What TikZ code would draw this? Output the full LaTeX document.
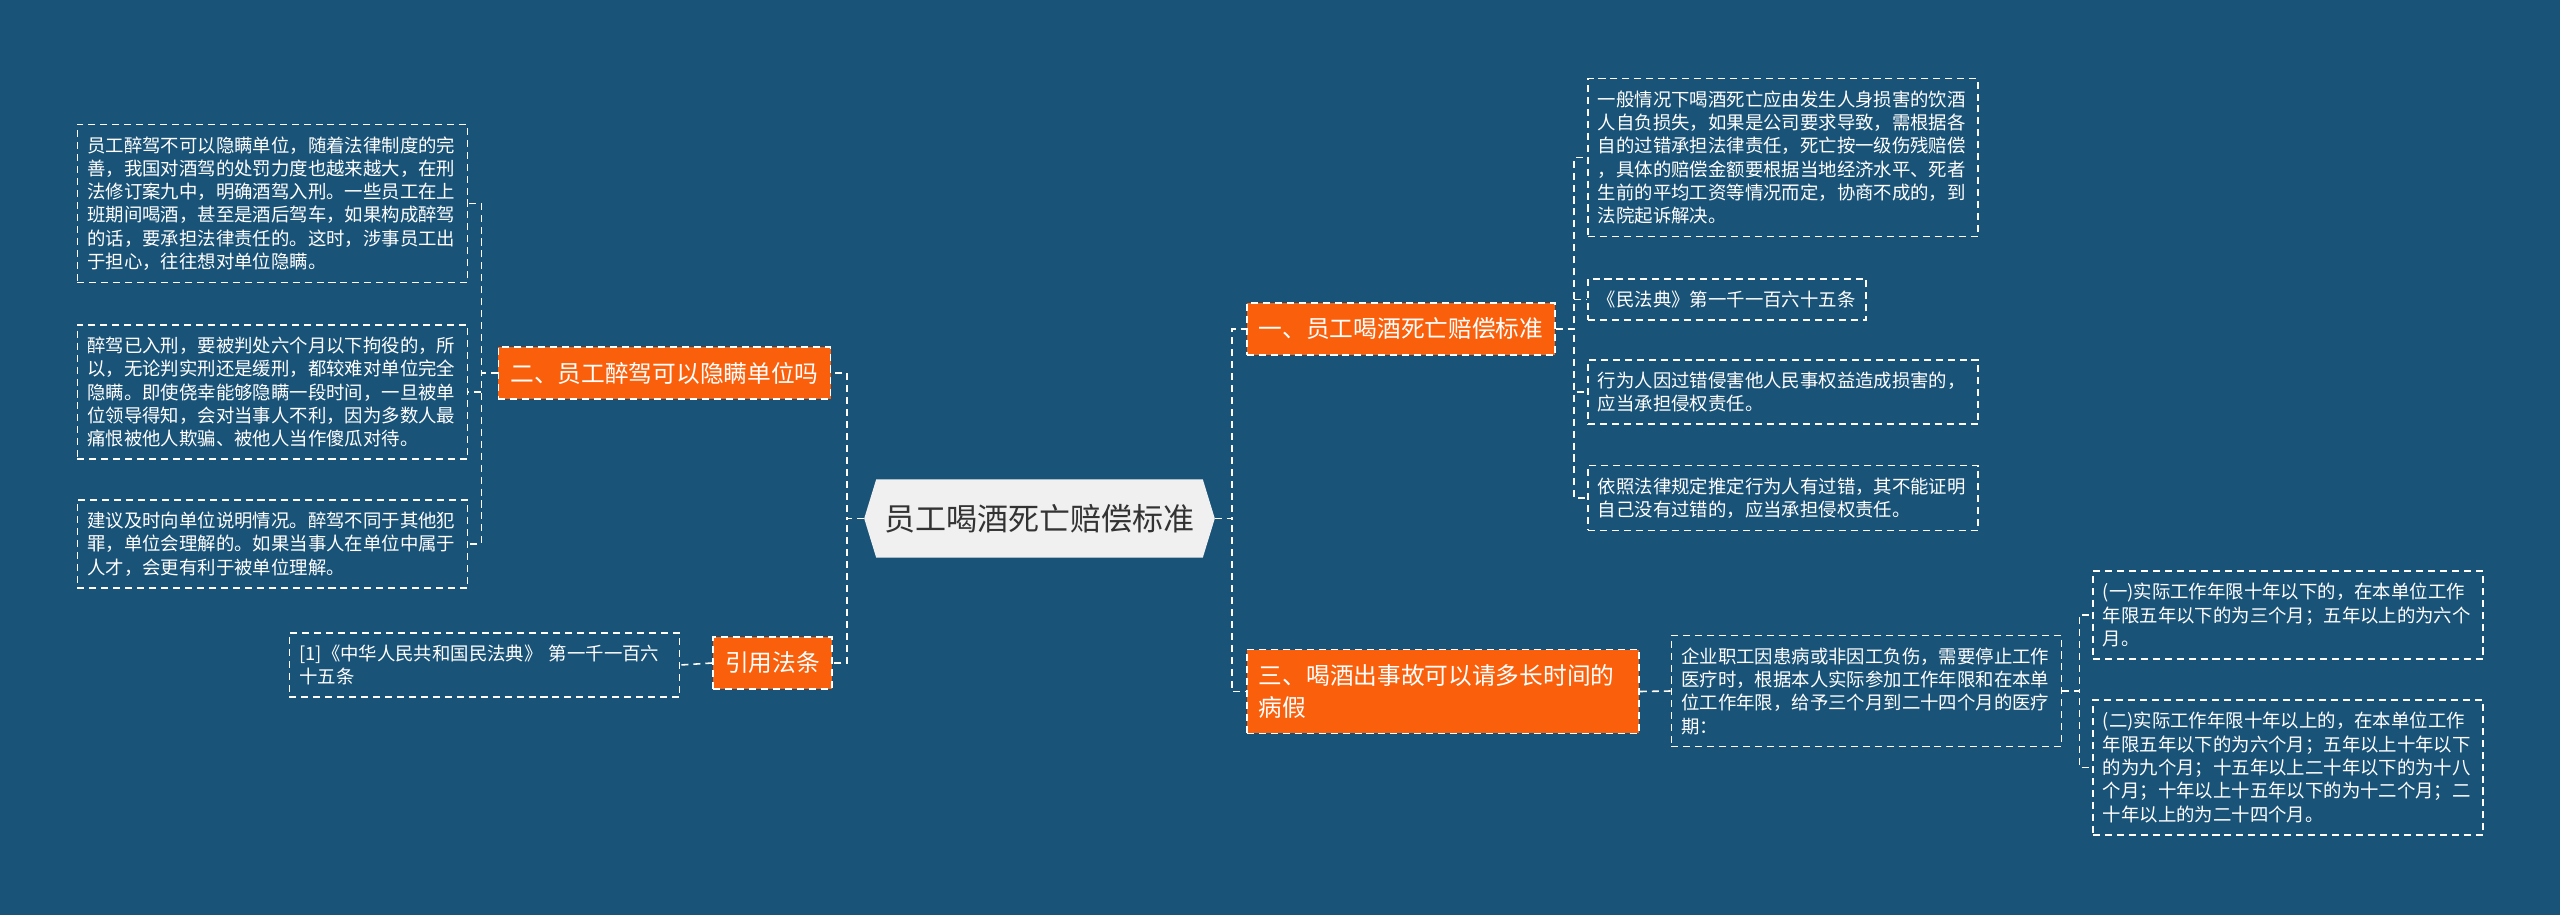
\documentclass[tikz,border=0pt]{standalone}
\usepackage{fontspec}
\usepackage{xcolor}
\usetikzlibrary{shapes,arrows,positioning,calc,backgrounds}
\newfontfamily\cjk{Noto Sans CJK SC}
\definecolor{deepblue}{RGB}{26,83,120}
\definecolor{orange}{RGB}{250,96,12}
\definecolor{lightgray}{RGB}{240,240,240}
\definecolor{darktext}{RGB}{51,51,51}

\begin{document}
\begin{tikzpicture}[x=0.01cm, y=-0.01cm,
  link/.style={white, line width=0.45pt, dash pattern=on 2pt off 1.4pt},
  leaf/.style={rectangle, draw=white, line width=0.45pt, dash pattern=on 2pt off 1.4pt,
    text=white, align=left, text width=3.7cm, inner xsep=0.1cm, inner ysep=0.12cm,
    font=\cjk\fontsize{5.23pt}{6.63pt}\selectfont},
  branch/.style={rectangle, draw=white, fill=orange, line width=0.45pt, dash pattern=on 2pt off 1.4pt,
    text=white, inner xsep=0.12cm, inner ysep=0.15cm,
    font=\cjk\fontsize{6.74pt}{9.1pt}\selectfont}]

% root
\node[rectangle, minimum width=3.25cm, minimum height=0.77cm, inner sep=0pt, text=darktext,
  font=\cjk\fontsize{8.82pt}{10pt}\selectfont] (main) at (1039.5,518.5) {员工喝酒死亡赔偿标准};

% branches
\node[branch] (b1) at (1401,329) {一、员工喝酒死亡赔偿标准};
\node[branch] (b2) at (664.5,373) {二、员工醉驾可以隐瞒单位吗};
\node[branch] (b3) at (772.5,663) {引用法条};
\node[branch, align=left, text width=3.68cm] (b4) at (1443,691.5) {三、喝酒出事故可以请多长时间的\\病假};

% left leaves
\node[leaf] (l1) at (272.5,203.5) {员工醉驾不可以隐瞒单位，随着法律制度的完\\善，我国对酒驾的处罚力度也越来越大，在刑\\法修订案九中，明确酒驾入刑。一些员工在上\\班期间喝酒，甚至是酒后驾车，如果构成醉驾\\的话，要承担法律责任的。这时，涉事员工出\\于担心，往往想对单位隐瞒。};
\node[leaf] (l2) at (272.5,392) {醉驾已入刑，要被判处六个月以下拘役的，所\\以，无论判实刑还是缓刑，都较难对单位完全\\隐瞒。即使侥幸能够隐瞒一段时间，一旦被单\\位领导得知，会对当事人不利，因为多数人最\\痛恨被他人欺骗、被他人当作傻瓜对待。};
\node[leaf] (l3) at (272.5,544) {建议及时向单位说明情况。醉驾不同于其他犯\\罪，单位会理解的。如果当事人在单位中属于\\人才，会更有利于被单位理解。};
\node[leaf] (ref) at (484.5,665) {[1]《中华人民共和国民法典》 第一千一百六\\十五条};

% right leaves
\node[leaf] (r1) at (1783,157.5) {一般情况下喝酒死亡应由发生人身损害的饮酒\\人自负损失，如果是公司要求导致，需根据各\\自的过错承担法律责任，死亡按一级伤残赔偿\\，具体的赔偿金额要根据当地经济水平、死者\\生前的平均工资等情况而定，协商不成的，到\\法院起诉解决。};
\node[leaf, text width=2.58cm] (r2) at (1727,299.5) {《民法典》第一千一百六十五条};
\node[leaf] (r3) at (1783,392) {行为人因过错侵害他人民事权益造成损害的，\\应当承担侵权责任。};
\node[leaf] (r4) at (1783,498) {依照法律规定推定行为人有过错，其不能证明\\自己没有过错的，应当承担侵权责任。};
\node[leaf] (q1) at (1866.5,691) {企业职工因患病或非因工负伤，需要停止工作\\医疗时，根据本人实际参加工作年限和在本单\\位工作年限，给予三个月到二十四个月的医疗\\期：};
\node[leaf] (s1) at (2288,615) {(一)实际工作年限十年以下的，在本单位工作\\年限五年以下的为三个月；五年以上的为六个\\月。};
\node[leaf] (s2) at (2288,767.5) {(二)实际工作年限十年以上的，在本单位工作\\年限五年以下的为六个月；五年以上十年以下\\的为九个月；十五年以上二十年以下的为十八\\个月；十年以上十五年以下的为十二个月；二\\十年以上的为二十四个月。};

% connectors
\draw[link] ([xshift=-0.12cm]main.west) -- ++(-17,0) |- (b2.east);
\draw[link] ([xshift=-0.12cm]main.west) -- ++(-17,0) |- (b3.east);
\draw[link] ([xshift=0.12cm]main.east) -- ++(17,0) |- (b1.west);
\draw[link] ([xshift=0.12cm]main.east) -- ++(17,0) |- (b4.west);
\foreach \n in {l1,l2,l3}
  \draw[link] (b2.west) -- ++(-16,0) |- (\n.east);
\draw[link] (b3.west) -- (ref.east);
\foreach \n in {r1,r2,r3,r4}
  \draw[link] (b1.east) -- ++(18,0) |- (\n.west);
\draw[link] (b4.east) -- (q1.west);
\foreach \n in {s1,s2}
  \draw[link] (q1.east) -- ++(17,0) |- (\n.west);

\begin{scope}[on background layer]
\fill[deepblue] (0,0) rectangle (2560,915);
\fill[lightgray] ([xshift=-0.12cm]main.west) -- (main.north west) -- (main.north east)
  -- ([xshift=0.12cm]main.east) -- (main.south east) -- (main.south west) -- cycle;
\end{scope}
\end{tikzpicture}
\end{document}
